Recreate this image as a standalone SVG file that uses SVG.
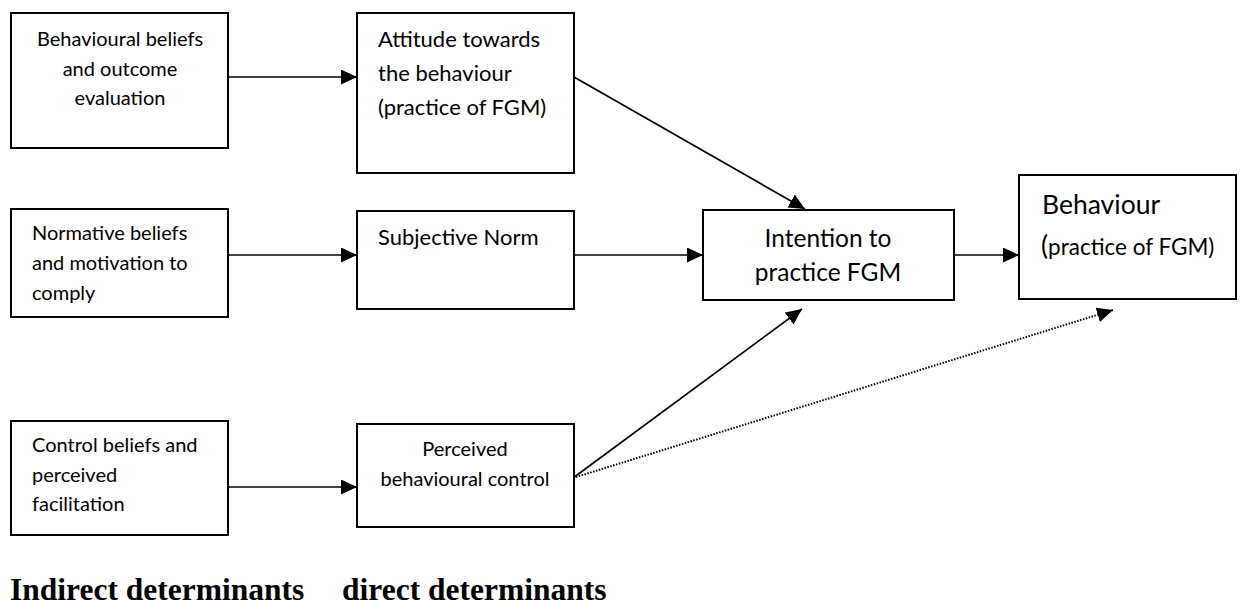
<svg xmlns="http://www.w3.org/2000/svg" width="1243" height="606" viewBox="0 0 1243 606">
<style>
.box{fill:#fff;stroke:#000;stroke-width:2}
.t{font-family:Lato,"Liberation Sans",sans-serif;fill:#000}
.c{text-anchor:middle}
.lbl{font-family:"Liberation Serif","Times New Roman",serif;font-weight:bold;font-size:31.5px;fill:#000}
.ln{stroke:#000;stroke-width:1.7;fill:none}
.dot{stroke:#000;stroke-width:2;stroke-dasharray:1.5 1.5;fill:none}
</style>
<defs>
<marker id="ah" markerUnits="userSpaceOnUse" markerWidth="17" markerHeight="16" refX="16" refY="7.5" orient="auto">
<path d="M0,0 L16,7.5 L0,15 z" fill="#000"/>
</marker>
</defs>
<rect width="1243" height="606" fill="#fff"/>
<g id="connectors">
<line class="ln" x1="228" y1="77" x2="357" y2="77" marker-end="url(#ah)"/>
<line class="ln" x1="228" y1="255" x2="357" y2="255" marker-end="url(#ah)"/>
<line class="ln" x1="228" y1="487" x2="357" y2="487" marker-end="url(#ah)"/>
<line class="ln" x1="574" y1="77" x2="805" y2="209" marker-end="url(#ah)"/>
<line class="ln" x1="574" y1="255" x2="703" y2="255" marker-end="url(#ah)"/>
<line class="ln" x1="573" y1="478" x2="802" y2="309" marker-end="url(#ah)"/>
<line class="ln" x1="954" y1="255" x2="1019" y2="255" marker-end="url(#ah)"/>
<line class="dot" x1="573" y1="478" x2="1113" y2="310" marker-end="url(#ah)"/>
</g>
<g id="behavioural-beliefs">
<rect class="box" x="11" y="13" width="217" height="135"/>
<text class="t c" font-size="20" x="120" y="46">Behavioural beliefs</text>
<text class="t c" font-size="20" x="120" y="76">and outcome</text>
<text class="t c" font-size="20" x="120" y="105">evaluation</text>
</g>
<g id="normative-beliefs">
<rect class="box" x="11" y="209" width="217" height="108"/>
<text class="t" font-size="20" x="32" y="240">Normative beliefs</text>
<text class="t" font-size="20" x="32" y="270">and motivation to</text>
<text class="t" font-size="20" x="32" y="300">comply</text>
</g>
<g id="control-beliefs">
<rect class="box" x="11" y="421" width="217" height="114"/>
<text class="t" font-size="20" x="32" y="452">Control beliefs and</text>
<text class="t" font-size="20" x="32" y="482">perceived</text>
<text class="t" font-size="20" x="32" y="511">facilitation</text>
</g>
<g id="attitude">
<rect class="box" x="357" y="13" width="217" height="160"/>
<text class="t" font-size="22" x="378" y="47">Attitude towards</text>
<text class="t" font-size="22" x="378" y="81">the behaviour</text>
<text class="t" font-size="22" x="378" y="115">(practice of FGM)</text>
</g>
<g id="subjective-norm">
<rect class="box" x="357" y="211" width="217" height="98"/>
<text class="t" font-size="22" x="378" y="245">Subjective Norm</text>
</g>
<g id="perceived-control">
<rect class="box" x="357" y="424" width="217" height="103"/>
<text class="t c" font-size="20" x="465" y="456">Perceived</text>
<text class="t c" font-size="20" x="465" y="486">behavioural control</text>
</g>
<g id="intention">
<rect class="box" x="703" y="210" width="251" height="90"/>
<text class="t c" font-size="24.5" x="828" y="247">Intention to</text>
<text class="t c" font-size="24.5" x="828" y="281">practice FGM</text>
</g>
<g id="behaviour">
<rect class="box" x="1019" y="175" width="217" height="124"/>
<text class="t" font-size="26.5" x="1042" y="214">Behaviour</text>
<text class="t" font-size="22.5" x="1041" y="255"><tspan font-size="26.5">(</tspan>practice of FGM)</text>
</g>
<g id="labels">
<text class="lbl" x="10" y="600">Indirect determinants</text>
<text class="lbl" x="342" y="600">direct determinants</text>
</g>
</svg>
